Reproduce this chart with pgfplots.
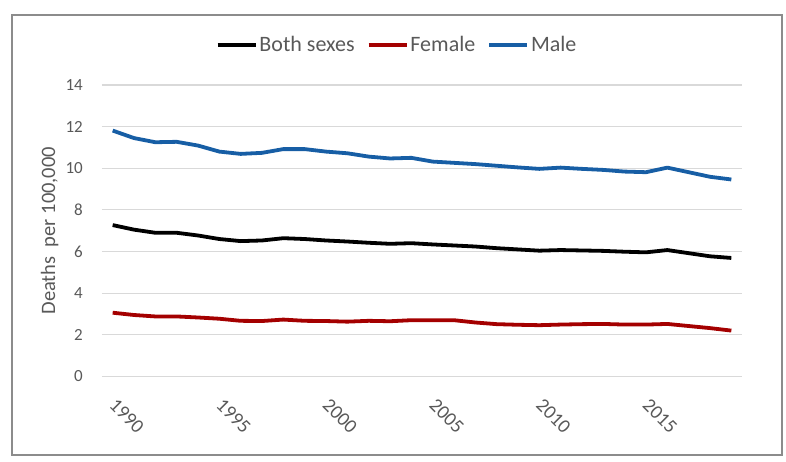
\documentclass[border=0pt]{standalone}
\usepackage{fontspec}
\setmainfont{Carlito}
\usepackage{pgfplots}
\usepackage{pgfplotstable}
\pgfplotsset{compat=1.18}

\definecolor{txtgray}{HTML}{595959}
\definecolor{gridgray}{HTML}{D9D9D9}
\definecolor{framegray}{HTML}{8C8C8C}
\definecolor{femred}{HTML}{A40000}
\definecolor{maleblue}{HTML}{175EA5}

% deaths per 100,000
\pgfplotstableread{
year both female male
1990 7.27 3.06 11.81
1991 7.05 2.95 11.45
1992 6.90 2.88 11.25
1993 6.90 2.88 11.27
1994 6.77 2.83 11.09
1995 6.60 2.77 10.80
1996 6.50 2.67 10.69
1997 6.53 2.66 10.74
1998 6.64 2.73 10.92
1999 6.60 2.67 10.92
2000 6.53 2.66 10.80
2001 6.48 2.63 10.72
2002 6.42 2.67 10.56
2003 6.37 2.65 10.47
2004 6.40 2.70 10.50
2005 6.34 2.70 10.32
2006 6.29 2.70 10.26
2007 6.24 2.59 10.20
2008 6.16 2.51 10.12
2009 6.10 2.48 10.04
2010 6.04 2.46 9.97
2011 6.07 2.49 10.03
2012 6.05 2.51 9.97
2013 6.03 2.52 9.92
2014 5.99 2.49 9.84
2015 5.96 2.49 9.81
2016 6.07 2.52 10.03
2017 5.92 2.42 9.81
2018 5.77 2.32 9.59
2019 5.69 2.20 9.46
}\deaths

\begin{document}
\begin{tikzpicture}
% page size and chart frame
\path (-102pt,-85.6pt) rectangle (684pt,376.4pt);
\draw[framegray, line width=1.2pt] (-90pt,-78.6pt) rectangle (680pt,361.4pt);

\begin{axis}[
    scale only axis,
    width=640pt, height=291.4pt,
    xmin=1989.5, xmax=2019.5,
    ymin=0, ymax=14,
    xtick={1990,1995,2000,2005,2010,2015},
    ytick={0,2,...,14},
    axis line style={draw=none},
    major tick length=0pt,
    tick style={draw=none},
    ymajorgrids,
    grid style={gridgray, line width=1.2pt},
    /pgf/number format/assume math mode=true,
    xticklabel={\pgfmathprintnumber[1000 sep={}]{\tick}},
    yticklabel style={font=\fontsize{17}{20}\selectfont, text=txtgray,
        anchor=east, inner sep=0pt, xshift=-19pt},
    xticklabel style={font=\fontsize{19.5}{22}\selectfont, text=txtgray,
        inner sep=0pt, yshift=-26pt, rotate=-45, anchor=west},
    ylabel={Deaths~~per 100,000},
    ylabel style={font=\fontsize{20.5}{24}\selectfont, text=txtgray,
        at={(-0.0734,0.5)}, anchor=base, rotate=0},
    legend columns=3,
    legend style={at={(0.461,1.137)}, anchor=center, draw=none, fill=none,
        font=\fontsize{22}{26}\selectfont, text=txtgray,
        /tikz/every even column/.append style={column sep=10pt},
        inner sep=0pt},
    legend image code/.code={\draw[#1] (0pt,0pt) -- (38pt,0pt);},
    every axis plot/.append style={line width=3.8pt, line join=round},
]
\addplot[black] table[x=year, y=both] {\deaths};
\addlegendentry{Both sexes}
\addplot[femred] table[x=year, y=female] {\deaths};
\addlegendentry{Female}
\addplot[maleblue] table[x=year, y=male] {\deaths};
\addlegendentry{Male}
\end{axis}
\end{tikzpicture}
\end{document}
